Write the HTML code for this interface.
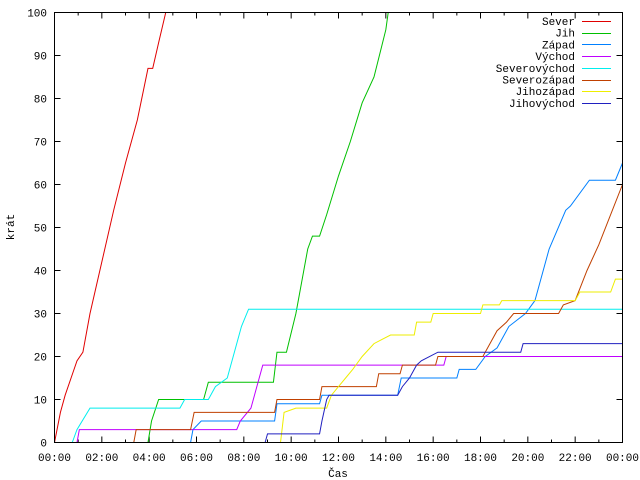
<!DOCTYPE html>
<html><head><meta charset="utf-8"><style>
body{margin:0;background:#fff}
svg{display:block;font-family:"Liberation Mono",monospace;font-size:11px}
</style></head><body>
<svg id="c" width="640" height="480" viewBox="0 0 640 480" xmlns="http://www.w3.org/2000/svg">
<rect x="0" y="0" width="640" height="480" fill="#fff"/>
<g id="axes"></g>
<g id="series"></g>
<g id="legend"></g>
<rect x="54.5" y="12.5" width="568" height="430" fill="none" stroke="#000"/>
<text x="14" y="227" transform="rotate(-90 14 227)" text-anchor="middle">krát</text>
<text x="338" y="477" text-anchor="middle">Čas</text>
</svg>
<script>
const yTicks=[0,10,20,30,40,50,60,70,80,90,100];
const xTickLabels=["00:00","02:00","04:00","06:00","08:00","10:00","12:00","14:00","16:00","18:00","20:00","22:00","00:00"];
const seriesNames=["Sever","Jih","Západ","Východ","Severovýchod","Severozápad","Jihozápad","Jihovýchod"];
const seriesColors=["#e00000","#00c000","#0080ff","#c000ff","#00eeee","#c04000","#eeee00","#2020c0"];
const severT=[0,0.25,0.45,0.7,0.95,1.2,1.5,2.0,2.5,3.0,3.5,3.95,4.15,4.4,4.7];
const severV=[0,7,11,15,19,21,30,42,54,65,75,87,87,93,100];
const jihT=[3.95,4.1,4.4,6.3,6.5,9.25,9.4,9.8,10.2,10.7,10.9,11.2,11.5,12.0,12.5,13.0,13.5,14.0,14.1];
const jihV=[0,5,10,10,14,14,21,21,30,45,48,48,53,62,70,79,85,96,100];
const zapadT=[5.75,5.85,6.2,9.3,9.4,11.2,11.3,14.5,14.65,17.0,17.1,17.8,18.2,18.7,19.2,19.9,20.3,20.9,21.6,21.8,22.6,23.7,24];
const zapadV=[0,3,5,5,9,9,11,11,15,15,17,17,20,22,27,30,33,45,54,55,61,61,65];
const vychodT=[0.95,1.05,7.7,7.85,8.3,8.6,8.8,16.45,16.55,24];
const vychodV=[0,3,3,5,8,14,18,18,20,20];
const svT=[0.75,0.95,1.5,5.3,5.5,6.5,6.8,7.3,7.6,7.9,8.2,24];
const svV=[0,3,8,8,10,10,13,15,21,27,31,31];
const szT=[3.35,3.45,5.75,5.9,9.3,9.4,11.2,11.3,13.6,13.7,14.6,14.7,16.1,16.2,18.1,18.4,18.7,19.1,19.4,21.3,21.5,22.0,22.5,23.0,23.5,24];
const szV=[0,3,3,7,7,10,10,13,13,16,16,18,18,20,20,23,26,28,30,30,32,33,40,46,53,60];
const jzT=[9.55,9.7,10.2,11.5,11.7,12.0,12.3,12.6,13.0,13.5,14.2,15.2,15.3,15.9,16.0,18.0,18.1,18.8,18.9,22.0,22.2,23.5,23.7,24];
const jzV=[0,7,8,8,11,13,15,17,20,23,25,25,28,28,30,30,32,32,33,33,35,35,38,38];
const jvT=[8.9,9.0,11.2,11.3,11.5,11.6,14.5,14.7,15.0,15.3,15.5,16.2,19.7,19.8,24];
const jvV=[0,2,2,5,10,11,11,13,15,18,19,21,21,23,23];
const allT=[severT,jihT,zapadT,vychodT,svT,szT,jzT,jvT];
const allV=[severV,jihV,zapadV,vychodV,svV,szV,jzV,jvV];

const X0=54.5,X1=622.5,Y0=442.5,Y1=12.5;
const xs=h=>X0+(X1-X0)*h/24;
const ys=v=>Y0-(Y0-Y1)*v/100;
const NS="http://www.w3.org/2000/svg";
function mk(tag,attrs,parent){const e=document.createElementNS(NS,tag);for(const k in attrs)e.setAttribute(k,attrs[k]);parent.appendChild(e);return e;}
const axes=document.getElementById('axes');
yTicks.forEach(v=>{
  const y=ys(v);
  const l=mk('path',{d:`M${X0} ${y}h6M${X1} ${y}h-6`,stroke:'#000'},axes);
  
  
  const t=mk('text',{x:47,y:y+4,'text-anchor':'end'},axes);
  t.textContent=v;
  
  
});
for(let h=0;h<=24;h++){
  const x=xs(h);const len=h%2===0?6:3;
  const l=mk('path',{d:`M${x} ${Y0}v${-len}M${x} ${Y1}v${len}`,stroke:'#000'},axes);
  
  
}
xTickLabels.forEach((s,i)=>{
  const t=mk('text',{x:xs(i*2),y:461,'text-anchor':'middle'},axes);
  t.textContent=s;
  
  
});
const sg=document.getElementById('series');
allT.forEach((T,i)=>{
  const V=allV[i];
  let d=`M${xs(T[0])} ${ys(V[0])}`;
  for(let k=1;k<T.length;k++){d+=`L${xs(T[k])} ${ys(V[k])}`;}
  const p=mk('path',{d:d,fill:'none',stroke:seriesColors[i],'stroke-width':1},sg);
  
  
});
const lg=document.getElementById('legend');
seriesNames.forEach((n,i)=>{
  const y=21+i*11.7;
  const t=mk('text',{x:575,y:y+4,'text-anchor':'end'},lg);
  t.textContent=n;
  
  
  const l=mk('path',{d:`M582 ${Math.round(y)+0.5}H611`,stroke:seriesColors[i]},lg);
  
  
});
</script>
</body></html>
